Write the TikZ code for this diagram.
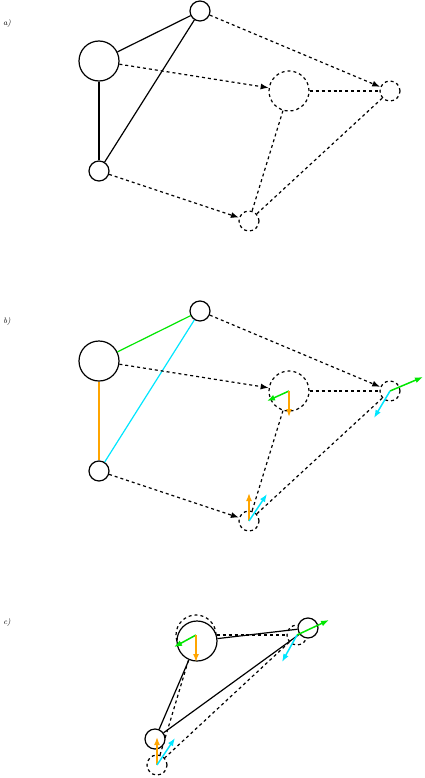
\documentclass[tikz,border=0pt]{standalone}
\usetikzlibrary{arrows.meta}
\definecolor{sporange}{RGB}{255,165,0}
\definecolor{spgreen}{RGB}{0,230,0}
\definecolor{spcyan}{RGB}{0,230,255}
\begin{document}
\begin{tikzpicture}[x=1bp, y=-1bp, line width=1.2bp,
    every node/.style={font=\footnotesize\itshape},
    mass/.style={draw, circle, fill=white, inner sep=0pt, minimum size=20bp},
    heavy/.style={mass, minimum size=40bp},
    ghost/.style={dashed},
    move/.style={dashed, -{Latex[length=8bp,width=6bp]}},
    force/.style={line width=1.5bp, -{Latex[length=8bp,width=6bp]}}]
    \useasboundingbox (0,0) rectangle (424,778);

    % Labels
    \node (la) at (7,24) {a)};
    \node (lb) at (7,322) {b)};
    \node (lc) at (7,622) {c)};

    % a) Ausgangslage
    \node[heavy] (Ba) at (99,61) {};
    \node[mass] (Ta) at (200,11) {};
    \node[mass] (La) at (99,171) {};
    \node[heavy, ghost] (Ma) at (289,91) {};
    \node[mass, ghost] (Ra) at (390,91) {};
    \node[mass, ghost] (Da) at (249,221) {};
    \draw (Ba) -- (Ta);
    \draw (Ba) -- (La);
    \draw (Ta) -- (La);
    \draw[move] (Ba) -- (Ma);
    \draw[move] (Ta) -- (Ra);
    \draw[move] (La) -- (Da);
    \draw[ghost] (Ma) -- (Ra);
    \draw[ghost] (Ma) -- (Da);
    \draw[ghost] (Ra) -- (Da);

    % b) Federkraefte
    \node[heavy] (Bb) at (99,361) {};
    \node[mass] (Tb) at (200,311) {};
    \node[mass] (Lb) at (99,471) {};
    \node[heavy, ghost] (Mb) at (289,391) {};
    \node[mass, ghost] (Rb) at (390,391) {};
    \node[mass, ghost] (Db) at (249,521) {};
    \draw[spgreen] (Bb) -- (Tb);
    \draw[sporange, line width=1.5bp] (Bb) -- (Lb);
    \draw[spcyan] (Tb) -- (Lb);
    \draw[move] (Bb) -- (Mb);
    \draw[move] (Tb) -- (Rb);
    \draw[move] (Lb) -- (Db);
    \draw[ghost] (Mb) -- (Rb);
    \draw[ghost] (Mb) -- (Db);
    \draw[ghost] (Rb) -- (Db);
    \draw[force, spgreen] (Mb.center) -- ++(-22,10);
    \draw[force, sporange] (Mb.center) -- ++(0,26);
    \draw[force, spgreen] (Rb.center) -- ++(33,-14);
    \draw[force, spcyan] (Rb.center) -- ++(-16,27);
    \draw[force, sporange] (Db.center) -- ++(0,-28);
    \draw[force, spcyan] (Db.center) -- ++(18,-27);

    % c) Ergebnis
    \node[heavy, ghost] (Mc) at (196,635) {};
    \node[mass, ghost] (Rc) at (297,635) {};
    \node[mass, ghost] (Dc) at (157,765) {};
    \draw[ghost] (Mc) -- (Rc);
    \draw[ghost] (Mc) -- (Dc);
    \draw[ghost] (Rc) -- (Dc);
    \node[heavy] (Bc) at (197,641) {};
    \node[mass] (Tc) at (308,628) {};
    \node[mass] (Lc) at (155,739) {};
    \draw (Bc) -- (Tc);
    \draw (Bc) -- (Lc);
    \draw (Tc) -- (Lc);
    \draw[force, spgreen] (Mc.center) -- ++(-22,12);
    \draw[force, sporange] (Mc.center) -- ++(0,27);
    \draw[force, spgreen] (Rc.center) -- ++(32,-15);
    \draw[force, spcyan] (Rc.center) -- ++(-15,27);
    \draw[force, sporange] (Dc.center) -- ++(0,-28);
    \draw[force, spcyan] (Dc.center) -- ++(18,-27);
\end{tikzpicture}
\end{document}
